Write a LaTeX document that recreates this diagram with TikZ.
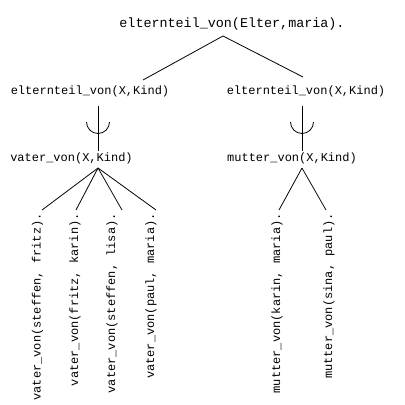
\documentclass[tikz,border=0pt]{standalone}
\usepackage{fontspec}
\newfontfamily\prolog{Liberation Mono}
\usetikzlibrary{positioning, calc}

\begin{document}
\begin{tikzpicture}[
    x=1pt, y=-1pt,
    query/.style={font=\prolog\fontsize{13.4}{16}\selectfont, inner sep=1pt},
    goal/.style={font=\prolog\fontsize{12}{14}\selectfont, inner sep=1pt},
    fact/.style={goal, rotate=90, anchor=east},
    edge/.style={line width=0.8pt}
  ]
    \useasboundingbox (0,0) rectangle (405,405);

    % Query
    \node[query] (q) at (232,24) {elternteil\_von(Elter,maria).};

    % Rules
    \node[goal] (el) at (90,91) {elternteil\_von(X,Kind)};
    \node[goal] (er) at (306,91) {elternteil\_von(X,Kind)};
    \node[goal] (vater) at (71.5,158) {vater\_von(X,Kind)};
    \node[goal] (mutter) at (292,158) {mutter\_von(X,Kind)};

    % Facts
    \node[fact] (v1) at (37.5,212) {vater\_von(steffen, fritz).};
    \node[fact] (v2) at (75,212) {vater\_von(fritz, karin).};
    \node[fact] (v3) at (112,212) {vater\_von(steffen, lisa).};
    \node[fact] (v4) at (151,212) {vater\_von(paul, maria).};
    \node[fact] (m1) at (277,212) {mutter\_von(karin, maria).};
    \node[fact] (m2) at (329,212) {mutter\_von(sina, paul).};

    % Fork points
    \coordinate (qfork) at (223,36);
    \coordinate (ljoin) at (143,80);
    \coordinate (rjoin) at (303,77);
    \coordinate (ltop) at (98,106);
    \coordinate (rtop) at (302,106);
    \coordinate (vfork) at (98,168);
    \coordinate (mfork) at (302,168);

    % Or-branches
    \draw[edge] (qfork) -- (ljoin);
    \draw[edge] (qfork) -- (rjoin);

    % And-links with arc
    \draw[edge] (ltop) -- (ltop |- vater.north);
    \draw[edge] (rtop) -- (rtop |- mutter.north);
    \draw[edge] (86.5,122) arc (180:0:11.5);
    \draw[edge] (290.5,122) arc (180:0:11.5);

    % Facts
    \foreach \leaf/\dx in {v1/4.5, v2/1, v3/10, v4/5}
      \draw[edge] (vfork) -- ([shift={(\dx,-2)}]\leaf.east);
    \foreach \leaf/\dx in {m1/2, m2/-3}
      \draw[edge] (mfork) -- ([shift={(\dx,-2)}]\leaf.east);
  \end{tikzpicture}
\end{document}
